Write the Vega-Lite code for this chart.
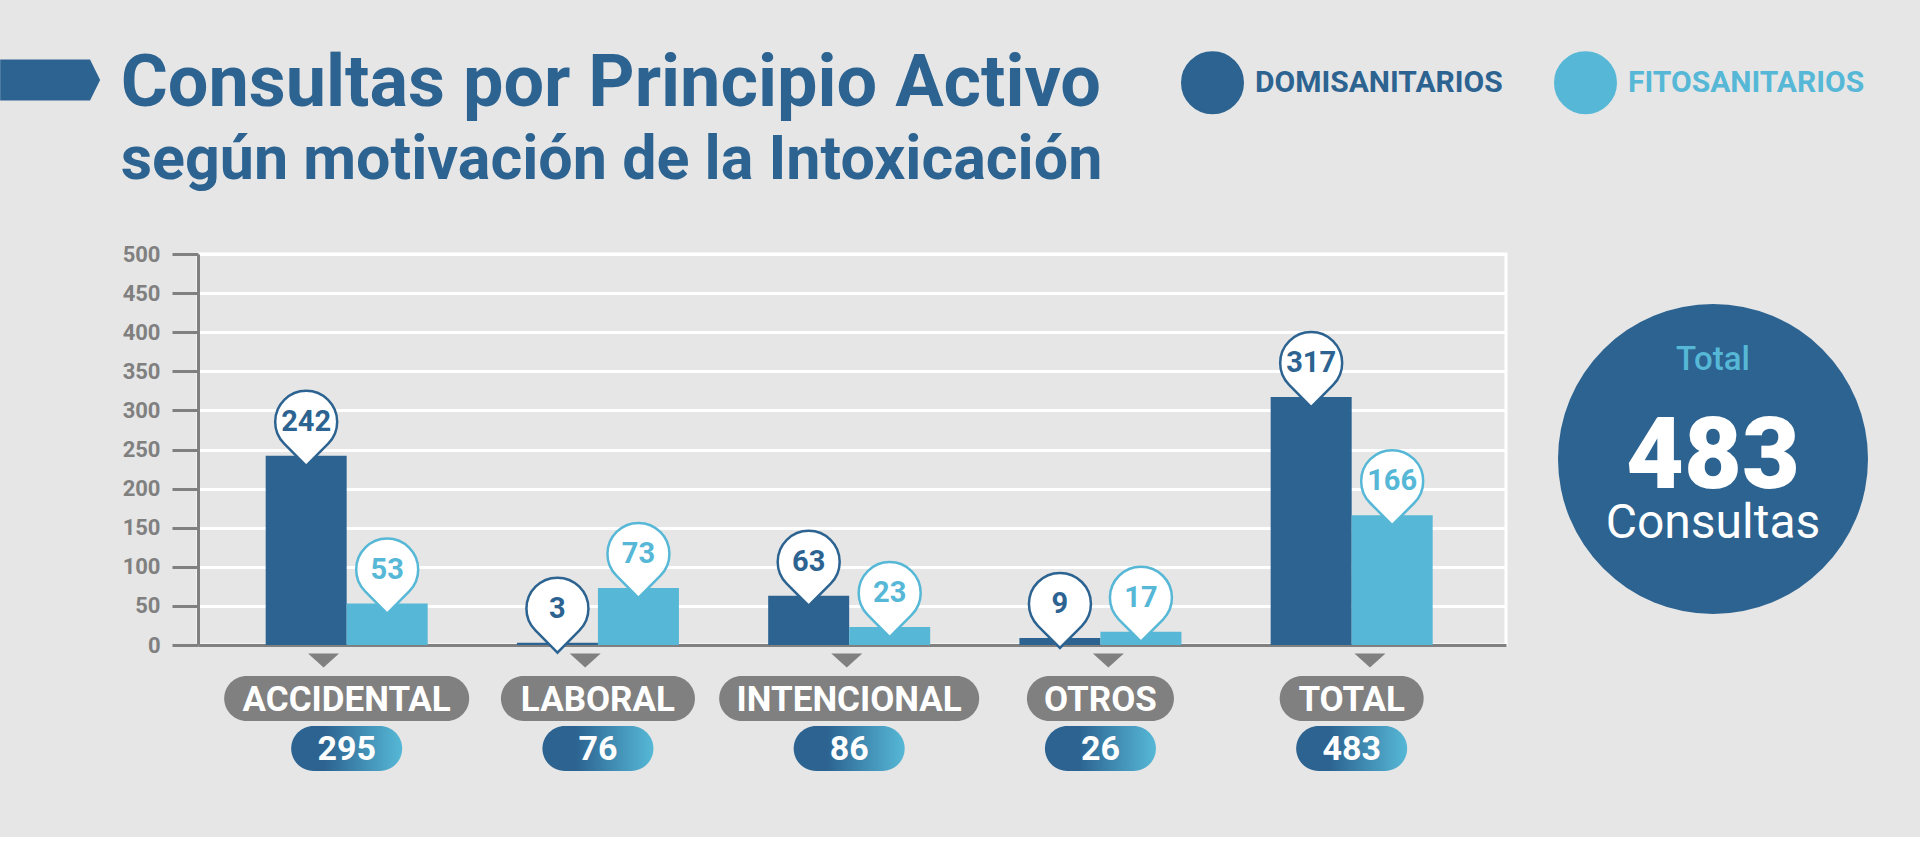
{
  "$schema": "https://vega.github.io/schema/vega-lite/v6.json",
  "background": "#e6e6e6",
  "padding": {"left": 120, "top": 48, "right": 37, "bottom": 66},
  "config": {
    "font": "Roboto",
    "view": {"stroke": null},
    "legend": {"padding": 0}
  },
  "title": {
    "text": "Consultas por Principio Activo",
    "subtitle": "según motivación de la Intoxicación",
    "anchor": "start",
    "font": "Roboto",
    "fontSize": 72,
    "fontWeight": "bold",
    "color": "#2c6391",
    "subtitleFont": "Roboto",
    "subtitleFontSize": 61,
    "subtitleFontWeight": "bold",
    "subtitleColor": "#2c6391",
    "subtitlePadding": 10,
    "offset": -141
  },
  "datasets": {
    "consultas": [
      {"categoria": "ACCIDENTAL", "serie": "DOMISANITARIOS", "valor": 242},
      {"categoria": "ACCIDENTAL", "serie": "FITOSANITARIOS", "valor": 53},
      {"categoria": "LABORAL", "serie": "DOMISANITARIOS", "valor": 3},
      {"categoria": "LABORAL", "serie": "FITOSANITARIOS", "valor": 73},
      {"categoria": "INTENCIONAL", "serie": "DOMISANITARIOS", "valor": 63},
      {"categoria": "INTENCIONAL", "serie": "FITOSANITARIOS", "valor": 23},
      {"categoria": "OTROS", "serie": "DOMISANITARIOS", "valor": 9},
      {"categoria": "OTROS", "serie": "FITOSANITARIOS", "valor": 17},
      {"categoria": "TOTAL", "serie": "DOMISANITARIOS", "valor": 317},
      {"categoria": "TOTAL", "serie": "FITOSANITARIOS", "valor": 166}
    ],
    "total": [{"etiqueta": "Consultas", "total": 483}]
  },
  "spacing": 35,
  "hconcat": [
    {
      "spacing": 5,
      "bounds": "flush",
      "vconcat": [
        {
          "width": 1308,
          "height": 391,
          "view": {"stroke": "white", "strokeWidth": 3},
          "data": {"name": "consultas"},
          "encoding": {
            "x": {
              "field": "categoria", "type": "nominal",
              "sort": ["ACCIDENTAL", "LABORAL", "INTENCIONAL", "OTROS", "TOTAL"],
              "scale": {"paddingInner": 0.3552, "paddingOuter": 0.2806, "align": 0.48},
              "axis": {"labels": false, "ticks": false, "title": null, "grid": false, "domainColor": "#808080", "domainWidth": 3}
            },
            "xOffset": {
              "field": "serie", "type": "nominal",
              "sort": ["DOMISANITARIOS", "FITOSANITARIOS"],
              "scale": {"paddingInner": 0, "paddingOuter": 0}
            },
            "y": {
              "field": "valor", "type": "quantitative",
              "scale": {"domain": [0, 500], "nice": false},
              "axis": {
                "title": null,
                "values": [0, 50, 100, 150, 200, 250, 300, 350, 400, 450, 500],
                "labelFont": "Roboto", "labelFontSize": 22, "labelFontWeight": "bold", "labelColor": "#808080",
                "labelPadding": 12,
                "tickColor": "#808080", "tickWidth": 3, "tickSize": 26,
                "domainColor": "#808080", "domainWidth": 3,
                "gridColor": "white", "gridWidth": 3, "gridOpacity": 1
              }
            }
          },
          "layer": [
            {
              "mark": {"type": "bar"},
              "encoding": {
                "color": {
                  "field": "serie", "type": "nominal",
                  "scale": {"domain": ["DOMISANITARIOS", "FITOSANITARIOS"], "range": ["#2c6391", "#56b8d6"]},
                  "legend": {
                    "orient": "none", "legendX": 983, "legendY": -203,
                    "direction": "horizontal", "title": null,
                    "symbolType": "circle", "symbolSize": 3600,
                    "symbolStrokeColor": "white", "symbolStrokeWidth": 3,
                    "labelFont": "Roboto", "labelFontSize": 30, "labelFontWeight": "bold",
                    "labelLimit": 500,
                    "labelOffset": 11, "columnPadding": 46,
                    "encode": {
                      "labels": {"update": {"fill": {"signal": "datum.value === 'DOMISANITARIOS' ? '#2c6391' : '#56b8d6'"}}},
                      "symbols": {"update": {"stroke": {"value": "white"}, "strokeWidth": {"value": 3}}}
                    }
                  }
                }
              }
            },
            {
              "mark": {
                "type": "point",
                "shape": "M0,0.323L-0.71,-0.393A1,1,0,1,1,0.71,-0.393Z",
                "size": 3844, "filled": true, "fill": "white", "strokeWidth": 2.5, "opacity": 1
              },
              "encoding": {
                "stroke": {
                  "field": "serie", "type": "nominal",
                  "scale": {"domain": ["DOMISANITARIOS", "FITOSANITARIOS"], "range": ["#2c6391", "#56b8d6"]},
                  "legend": null
                }
              }
            },
            {
              "mark": {"type": "text", "dy": -34, "font": "Roboto", "fontSize": 29, "fontWeight": "bold", "baseline": "middle", "align": "center"},
              "encoding": {
                "text": {"field": "valor", "type": "quantitative"},
                "color": {"field": "serie", "type": "nominal", "legend": null}
              }
            }
          ]
        },
        {
          "width": 1308,
          "height": 21,
          "data": {"name": "consultas"},
          "transform": [{"aggregate": [{"op": "sum", "field": "valor", "as": "total"}], "groupby": ["categoria"]}],
          "mark": {"type": "point", "shape": "M-1,-0.45L1,-0.45L0,0.45Z", "size": 961, "filled": true, "color": "#808080", "opacity": 1},
          "encoding": {
            "x": {
              "field": "categoria", "type": "nominal",
              "sort": ["ACCIDENTAL", "LABORAL", "INTENCIONAL", "OTROS", "TOTAL"],
              "scale": {"paddingInner": 0.3552, "paddingOuter": 0.2806, "align": 0.48},
              "axis": null
            }
          }
        },
        {
          "width": 1308,
          "height": 45,
          "data": {"name": "consultas"},
          "transform": [{"aggregate": [{"op": "sum", "field": "valor", "as": "total"}], "groupby": ["categoria"]}],
          "encoding": {
            "x": {
              "field": "categoria", "type": "nominal",
              "sort": ["ACCIDENTAL", "LABORAL", "INTENCIONAL", "OTROS", "TOTAL"],
              "scale": {"paddingInner": 0.3552, "paddingOuter": 0.2806, "align": 0.48},
              "axis": null
            }
          },
          "layer": [
            {
              "mark": {"type": "bar", "orient": "vertical", "cornerRadius": 22.5, "color": "#808080"},
              "encoding": {
                "size": {
                  "field": "categoria", "type": "ordinal",
                  "scale": {"type": "ordinal", "domain": ["ACCIDENTAL", "LABORAL", "INTENCIONAL", "OTROS", "TOTAL"], "range": [245, 194, 260, 147, 144]},
                  "legend": null
                }
              }
            },
            {
              "mark": {"type": "text", "font": "Roboto", "fontSize": 35, "fontWeight": "bold", "color": "white", "baseline": "middle", "dy": 1},
              "encoding": {"text": {"field": "categoria", "type": "nominal"}}
            }
          ]
        },
        {
          "width": 1308,
          "height": 45,
          "data": {"name": "consultas"},
          "transform": [{"aggregate": [{"op": "sum", "field": "valor", "as": "total"}], "groupby": ["categoria"]}],
          "encoding": {
            "x": {
              "field": "categoria", "type": "nominal",
              "sort": ["ACCIDENTAL", "LABORAL", "INTENCIONAL", "OTROS", "TOTAL"],
              "scale": {"paddingInner": 0.3552, "paddingOuter": 0.2806, "align": 0.48},
              "axis": null
            }
          },
          "layer": [
            {
              "mark": {
                "type": "bar", "cornerRadius": 22.5, "width": 111,
                "color": {
                  "gradient": "linear", "x1": 0, "y1": 0, "x2": 1, "y2": 0,
                  "stops": [
                    {"offset": 0, "color": "#2c6391"},
                    {"offset": 0.3, "color": "#2c6391"},
                    {"offset": 1, "color": "#56b8d6"}
                  ]
                }
              }
            },
            {
              "mark": {"type": "text", "font": "Roboto", "fontSize": 34, "fontWeight": "bold", "color": "white", "baseline": "middle", "dy": 1},
              "encoding": {"text": {"field": "total", "type": "quantitative"}}
            }
          ]
        }
      ]
    },
    {
      "width": 340,
      "height": 410,
      "data": {"name": "total"},
      "layer": [
        {
          "mark": {"type": "point", "shape": "circle", "size": 96100, "filled": true, "color": "#2c6391"},
          "encoding": {
            "opacity": {
              "field": "etiqueta", "type": "nominal",
              "scale": {"type": "ordinal", "domain": ["Consultas"], "range": [1]},
              "legend": {
                "orient": "none", "legendX": -71, "legendY": -195,
                "title": null, "labelExpr": "''", "labelOffset": 0,
                "symbolType": "M-7.04,-0.976L-2.76,-0.976L-2.28,0L-2.76,0.976L-7.04,0.976Z",
                "symbolSize": 1764,
                "symbolFillColor": "#2c6391", "symbolStrokeWidth": 0,
                "encode": {
                  "symbols": {"update": {
                    "fill": {"value": "#2c6391"},
                    "strokeWidth": {"value": 0}
                  }}
                }
              }
            }
          }
        },
        {
          "mark": {"type": "text", "text": "Total", "font": "Roboto", "fontSize": 33, "fontWeight": 500, "color": "#56b8d6", "baseline": "alphabetic", "align": "center", "dy": -89},
          "encoding": {}
        },
        {
          "mark": {"type": "text", "font": "Roboto", "fontSize": 100, "fontWeight": 900, "color": "white", "baseline": "alphabetic", "align": "center", "dy": 29},
          "encoding": {"text": {"field": "total", "type": "quantitative"}}
        },
        {
          "mark": {"type": "text", "font": "Roboto", "fontSize": 48, "fontWeight": "normal", "color": "white", "baseline": "alphabetic", "align": "center", "dy": 79},
          "encoding": {"text": {"field": "etiqueta", "type": "nominal"}}
        }
      ]
    }
  ]
}
